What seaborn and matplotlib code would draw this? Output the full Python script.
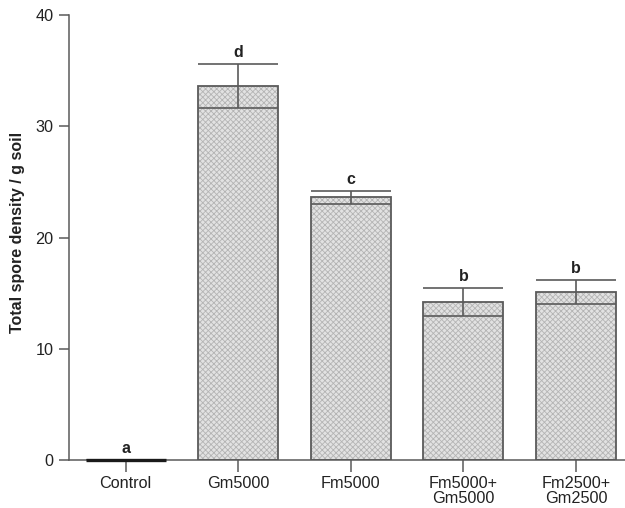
import matplotlib
matplotlib.use("Agg")
import matplotlib.pyplot as plt
import seaborn as sns
import pandas as pd
import numpy as np

categories = ["Control", "Gm5000", "Fm5000", "Fm5000+\nGm5000", "Fm2500+\nGm2500"]
means = [0.0, 33.6, 23.6, 14.2, 15.1]
errors = [0.0, 2.0, 0.6, 1.3, 1.05]
letters = ["a", "d", "c", "b", "b"]
y_ticks = [0, 10, 20, 30, 40]

sns.set_theme(style="ticks")
plt.rcParams["font.family"] = ["Liberation Sans", "DejaVu Sans"]
plt.rcParams["hatch.linewidth"] = 0.6

df = pd.DataFrame({"group": categories, "value": means})

fig = plt.figure(figsize=(6.25, 5.08), dpi=100)
ax = fig.add_axes([69.3 / 625, 48 / 508, 1 - 69.3 / 625, 445 / 508])

line_col = "#5a5a5a"
width = 0.71

# stippled fill
sns.barplot(data=df, x="group", y="value", order=categories, ax=ax,
            color="#e2e2e2", width=width, linewidth=0, errorbar=None,
            saturation=1)
for p in ax.patches:
    p.set_hatch("xxxxxx")
    p.set_edgecolor("#b4b4b4")
    p.set_linewidth(0)

# outlines
sns.barplot(data=df, x="group", y="value", order=categories, ax=ax,
            fill=False, width=width, linewidth=1.3, edgecolor=line_col,
            errorbar=None)

m = np.array(means)
e = np.array(errors)
xs = np.arange(len(categories))
half = width / 2
nz = e > 0
ax.vlines(xs[nz], (m - e)[nz], (m + e)[nz], color=line_col, lw=1.2, zorder=5)
ax.hlines((m + e)[nz], xs[nz] - half, xs[nz] + half, color=line_col, lw=1.2, zorder=5)
ax.hlines((m - e)[nz], xs[nz] - half, xs[nz] + half, color=line_col, lw=1.2, zorder=5)
# control zero bar line
ax.hlines(m[~nz], xs[~nz] - half, xs[~nz] + half, color="#1a1a1a", lw=2.4,
          zorder=6, clip_on=False)

for x, top, lab in zip(xs, m + e, letters):
    ax.text(x, top + 0.35, lab, ha="center", va="bottom", fontsize=11.5,
            fontweight="bold", color="#222222")

ax.set_xlim(-0.5, 4.435)
ax.set_ylim(0, 40)
ax.set_yticks(y_ticks)
ax.set_yticklabels([str(t) for t in y_ticks], fontsize=11.7)
ax.set_xticks(xs)
ax.set_xticklabels(categories, fontsize=11.7, linespacing=1.0)
ax.set_xlabel("")
ax.set_ylabel("Total spore density / g soil", fontsize=11.5, fontweight="bold",
              color="#222222")
ax.yaxis.set_label_coords(-0.08, 0.512)

for s in ["top", "right"]:
    ax.spines[s].set_visible(False)
for s in ["left", "bottom"]:
    ax.spines[s].set_color(line_col)
    ax.spines[s].set_linewidth(1.1)
ax.tick_params(axis="y", length=7.2, width=1.1, color=line_col, pad=4, labelcolor="#222222")
ax.tick_params(axis="x", length=8.4, width=1.1, color=line_col, pad=3, labelcolor="#222222")

fig.savefig("out.png", dpi=100)
